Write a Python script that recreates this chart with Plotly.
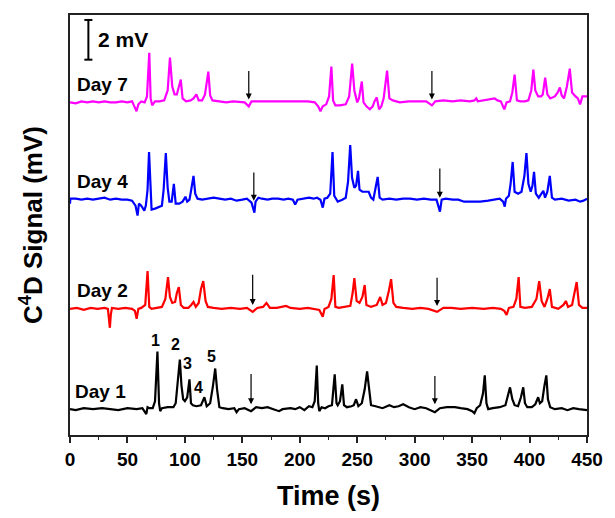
import plotly.graph_objects as go

# ---------------- data (time in s, signal relative to each trace baseline in mV) ----------------
day1_t = [0, 5, 12, 20, 28, 35, 42, 50, 58, 63, 65, 66.4, 67.5, 69, 72, 74, 76.1, 77.5, 78.5, 80, 85, 90, 92, 94, 95.6, 97, 98.5, 100, 102, 104, 105.3, 107, 110, 114, 117, 119, 122, 124.5, 126.4, 128, 130, 133, 138, 143, 145, 147, 152, 157.6, 162, 167, 172, 177, 182, 185, 192, 196, 200, 204, 208, 211, 213, 214.8, 216, 217, 219, 222, 225, 228, 230.4, 232, 233, 235, 237, 238.5, 241, 245, 247, 249, 251, 254, 256.5, 258.6, 260.5, 262, 266, 272, 278, 282, 286, 290, 295, 300, 305, 310, 317.6, 322, 328, 335, 340, 346, 350, 352, 354, 357, 359.5, 361, 362.5, 364, 368, 374, 379, 381, 383, 385, 387, 390, 392.5, 394.5, 396, 398, 402, 405, 407.5, 409, 411, 413, 414.6, 416, 418, 422, 428, 433, 438, 443, 450]
day1_v = [0, -0.05, 0.05, 0, 0.05, 0, -0.05, 0.05, 0, 0.05, -0.15, -0.25, 0.1, 0.05, 0.05, 0.4, 2.9, 0.3, -0.1, 0.05, 0.1, 0.1, 0.3, 1.5, 2.5, 1.2, 0.5, 0.4, 0.6, 1.5, 0.3, 0.2, 0.15, 0.2, 0.6, 0.15, 0.3, 1.2, 2.05, 1.0, 0.1, 0.05, 0, 0.05, -0.15, 0, 0.05, -0.1, 0.1, 0.05, 0.1, 0, -0.1, 0, 0.05, 0, 0.1, -0.05, 0.15, 0.1, 0.4, 2.2, 0.3, -0.1, 0.1, 0.05, 0.15, 0.2, 1.75, 0.3, 0.2, 0.4, 1.25, 0.2, 0.1, 0.15, 0.2, 0.5, 0.15, 0.3, 1.0, 1.9, 0.8, 0.2, 0.15, 0.05, 0.2, 0.1, 0.15, 0.25, 0.1, 0, 0.1, 0.05, -0.15, 0.05, 0.1, 0.1, 0.05, 0, -0.1, -0.2, 0.05, 0.2, 0.8, 1.7, 0.3, 0, 0.05, 0.1, 0.2, 0.6, 1.1, 0.5, 0.2, 0.15, 0.6, 1.1, 0.3, 0.1, 0.1, 0.25, 0.6, 0.3, 0.4, 1.2, 1.7, 0.5, 0.1, 0, 0.05, -0.05, 0.05, 0, -0.05]

day2_t = [0, 6, 12, 18, 24, 30, 33, 34, 34.7, 35.5, 36.5, 42, 48, 54, 56.5, 58, 59.5, 62, 65.5, 67.5, 69, 71, 76, 80, 83, 85.3, 87, 89, 91.5, 93, 94.7, 96.5, 99, 103, 105.5, 107.5, 109.5, 112, 114, 116, 118, 120, 125, 132, 140, 148, 154, 159, 163, 168, 171, 174, 180, 188, 192, 200, 207, 213, 217, 220, 221.5, 225, 227.5, 229.5, 231, 234, 240, 244, 246, 247.5, 249.5, 252, 254.5, 256.5, 258, 262, 267, 270, 272, 275, 277.5, 279.5, 281.5, 284, 290, 298, 305, 312, 319.5, 325, 332, 340, 350, 360, 368, 375, 378, 380, 382, 386, 388.5, 390.5, 392, 396, 402, 406, 408.4, 410.5, 413, 415.5, 417.6, 419.5, 425, 429.5, 431.6, 433.5, 437, 439, 441, 443, 446, 450]
day2_v = [0, 0.05, -0.05, 0.05, 0, 0.05, 0, -0.5, -0.95, -0.3, 0.05, 0, 0.05, 0, -0.1, -0.5, 0, 0.05, 0.2, 1.9, 0.1, 0, 0.05, 0.1, 0.5, 1.6, 0.6, 0.3, 0.35, 0.8, 1.1, 0.2, 0.05, 0.05, 0.2, 0.35, 0.1, 0.3, 1.0, 1.4, 0.4, 0.1, 0.05, 0, 0.05, 0, 0.05, -0.15, 0.05, 0.1, 0.3, 0.05, 0.05, 0.15, 0.05, 0, 0.05, 0, -0.05, -0.4, 0, 0.1, 0.5, 1.7, 0.1, 0.05, 0.1, 0.15, 0.8, 1.55, 0.4, 0.3, 0.6, 1.2, 0.2, 0.1, 0.2, 0.6, 0.2, 0.3, 0.9, 1.5, 0.3, 0.1, 0.05, 0, 0.05, 0, -0.15, 0.05, 0.05, 0, 0.05, 0, 0.05, 0, -0.1, -0.3, 0.05, 0.1, 0.5, 1.6, 0.1, 0.05, 0.1, 0.5, 1.4, 0.4, 0.1, 0.5, 1.0, 0.1, 0, 0.2, 0.4, 0.1, 0.2, 0.8, 1.35, 0.2, 0.05, 0.05]

day4_t = [0, 0.3, 5, 10, 15, 20, 25, 30, 35, 40, 45, 50, 54, 57, 58.8, 60, 62, 64.7, 66, 67.5, 68.8, 70, 71, 74, 78, 80, 81.5, 83.4, 85, 86.5, 88.5, 90.4, 92, 95, 98, 100.5, 102, 104, 105.5, 107.5, 109, 111, 115, 120, 125, 130, 135, 140, 145, 150, 154, 158, 160.5, 161.5, 164, 167, 172, 176, 181, 186, 190, 194, 196, 198, 203, 208, 212, 215, 218, 220, 221.5, 224, 226.5, 228.5, 230, 233, 237, 240, 242, 243.9, 245.5, 247.5, 249, 250.7, 252, 254.5, 257, 260, 262, 264, 266, 267.8, 269.5, 272, 278, 284, 290, 296, 302, 308, 314, 319, 322, 323.5, 327, 333, 338, 343, 350, 357, 364, 370, 374, 377, 378.4, 379.5, 382, 383.5, 385.3, 387, 390, 393, 395.5, 397.3, 399, 401, 402.5, 403.9, 405.5, 408, 410.5, 412, 413.5, 415.5, 417.6, 419.5, 422, 428, 434, 440, 444, 447, 450]
day4_v = [-0.2, 0.05, 0.05, 0, 0.05, 0, 0.05, 0.1, 0, 0.05, 0, 0, -0.05, -0.3, -0.8, -0.2, -0.3, -0.55, -0.3, 0.5, 2.4, 0.2, -0.5, -0.45, -0.35, -0.3, 0.5, 2.35, 0.6, -0.1, -0.1, 0.8, -0.2, -0.2, -0.1, 0.15, -0.1, 0, 0.5, 1.2, 0.3, 0.05, 0, 0.05, 0.1, 0.05, 0, 0.05, -0.05, 0, 0.05, -0.15, -0.65, -0.1, 0.1, 0.05, 0, 0.05, 0.05, 0, 0.05, 0, -0.25, 0, 0.05, 0.1, 0.05, 0.1, 0, -0.4, 0.05, 0.1, 0.3, 2.4, 0.2, -0.1, 0, 0.1, 0.9, 2.75, 1.1, 0.6, 0.7, 1.45, 0.5, 0.4, 0.4, 0.4, 0.1, 0, 0.6, 1.15, 0.1, 0, 0.05, 0, 0.05, 0.05, 0, 0.05, 0, 0, -0.6, 0, 0.05, 0, 0, -0.1, -0.1, -0.1, -0.05, 0, 0.05, -0.1, -0.35, 0.05, 0.2, 0.8, 1.9, 0.4, 0.3, 0.4, 1.2, 2.35, 0.8, 0.4, 0.7, 1.4, 0.3, 0.1, 0.3, 0.45, 0.1, 0.4, 1.2, 0.1, 0, 0.05, -0.05, 0, -0.1, -0.05, 0.05]

day7_t = [0, 5, 10, 15, 20, 25, 30, 35, 40, 45, 50, 54, 56, 57.9, 59.5, 62, 65, 67, 69, 70.2, 71.5, 74, 78, 82, 85, 87, 89, 91, 93, 94.5, 96.4, 98, 101, 105, 107.5, 110, 112, 115, 117.5, 120.4, 122, 124, 130, 136, 142, 148, 152, 155.6, 158, 163, 170, 178, 185, 192, 200, 207, 213, 216, 218, 220, 223, 225.5, 227.5, 229, 231, 235, 240, 243, 245.6, 247.5, 250, 251.5, 254, 255.5, 258, 261, 263.5, 265, 267, 269, 271, 273, 276, 278, 281, 287, 295, 303, 310, 315, 318, 325, 333, 340, 348, 352, 353.6, 355, 360, 366, 369.6, 372, 375, 378, 380, 383, 385, 387, 389, 392, 396, 399, 401.5, 403.3, 405, 407.5, 410, 411.5, 413.6, 415.5, 418, 422, 424.5, 426.4, 428, 430, 432.5, 435, 437, 440, 442, 444, 446, 450]
day7_v = [0, -0.05, 0.05, 0, 0.05, 0, 0.05, 0, 0, 0.05, 0, 0.05, -0.2, -0.45, -0.1, 0.05, 0, 0.3, 2.5, 0.2, -0.15, 0.05, 0.05, 0.1, 0.6, 2.25, 0.8, 0.4, 0.4, 0.7, 1.15, 0.2, 0.05, 0.1, 0.2, 0.4, 0.1, 0.1, 0.4, 1.55, 0.35, 0.1, 0.05, 0, 0.05, 0, 0, -0.2, 0.05, 0.05, 0.05, 0.05, 0.05, 0.05, 0.05, 0.05, 0, -0.2, -0.45, -0.2, -0.1, 0.3, 1.8, 0.1, -0.15, -0.15, -0.1, 0.3, 1.95, 0.6, 0, 0.2, 1.05, 0, -0.2, -0.35, -0.2, 0.05, 0.25, -0.35, -0.2, 0.2, 1.6, 0.2, 0.1, 0, 0.05, 0.05, 0.05, -0.15, 0.05, 0.1, 0.05, 0.1, 0.05, 0.1, 0.2, 0.05, 0.1, 0.15, 0.2, 0.1, 0.05, -0.35, 0, 0.05, 0.5, 1.4, 0.1, 0.05, 0.05, 0.1, 0.6, 1.65, 0.6, 0.3, 0.3, 0.4, 1.25, 0.4, 0.2, 0.3, 0.5, 0.75, 0.35, 0.2, 0.8, 1.7, 0.5, 0.3, 0.2, -0.1, 0.3, 0.3]

day_names = ["Day 1", "Day 2", "Day 4", "Day 7"]
day_offsets = [1.3, 6.35, 11.85, 16.75]          # vertical offsets of stacked traces (mV)
day_colors = ["#000000", "#FF0000", "#0000FF", "#FF00FF"]
label_t = [3, 4.7, 4.7, 4.7]
label_y = [2.2, 7.3, 12.75, 17.65]

# injection markers (arrows)
arrow_t = [157.6, 317.6, 159, 319.5, 160, 321.9, 155.6, 315]
arrow_top = [3.15, 3.05, 8.15, 8.0, 13.3, 13.5, 18.4, 18.4]
arrow_tip = [1.55, 1.55, 6.55, 6.5, 11.8, 11.95, 16.9, 16.9]

# peak numbers for Day 1
peak_labels = ["1", "2", "3", "4", "5"]
peak_label_t = [74.1, 92.1, 102.4, 111.9, 123]
peak_label_y = [4.75, 4.55, 3.6, 2.4, 3.95]

x_ticks = [0, 50, 100, 150, 200, 250, 300, 350, 400, 450]

# ---------------- figure ----------------
fig = go.Figure()
series = [(day1_t, day1_v), (day2_t, day2_v), (day4_t, day4_v), (day7_t, day7_v)]
for (t, v), off, col, name in zip(series, day_offsets, day_colors, day_names):
    fig.add_trace(go.Scatter(x=t, y=[val + off for val in v], mode="lines",
                             line=dict(color=col, width=2.2), name=name, showlegend=False,
                             hoverinfo="skip"))

FONT = "Liberation Sans, Arial, Helvetica, sans-serif"
ann = []
for name, lt, ly in zip(day_names, label_t, label_y):
    ann.append(dict(x=lt, y=ly, xref="x", yref="y", text="<b>%s</b>" % name, showarrow=False,
                    xanchor="left", yanchor="middle", font=dict(family=FONT, size=19, color="black")))
for at, atop, atip in zip(arrow_t, arrow_top, arrow_tip):
    ann.append(dict(x=at, y=atip, ax=at, ay=atop, xref="x", yref="y", axref="x", ayref="y",
                    text="", showarrow=True, arrowhead=2, arrowsize=1, arrowwidth=1.2,
                    arrowcolor="black", standoff=0, startstandoff=0))
for pl, pt, py in zip(peak_labels, peak_label_t, peak_label_y):
    ann.append(dict(x=pt, y=py, xref="x", yref="y", text="<b>%s</b>" % pl, showarrow=False,
                    xanchor="center", yanchor="middle", font=dict(family=FONT, size=16, color="black")))
# scale bar label
ann.append(dict(x=22.7, y=19.9, xref="x", yref="y", text="<b>2 mV</b>", showarrow=False,
                xanchor="left", yanchor="middle", font=dict(family=FONT, size=21, color="black")))

# scale bar (2 mV)
bar_x, bar_y0, bar_y1, cap = 16, 18.9, 20.9, 3.5
shapes = [
    dict(type="line", xref="x", yref="y", x0=bar_x, x1=bar_x, y0=bar_y0, y1=bar_y1, line=dict(color="black", width=2)),
    dict(type="line", xref="x", yref="y", x0=bar_x - cap, x1=bar_x + cap, y0=bar_y0, y1=bar_y0, line=dict(color="black", width=2)),
    dict(type="line", xref="x", yref="y", x0=bar_x - cap, x1=bar_x + cap, y0=bar_y1, y1=bar_y1, line=dict(color="black", width=2)),
]

fig.update_layout(
    width=615, height=518,
    margin=dict(l=70, r=19, t=15, b=80),
    paper_bgcolor="white", plot_bgcolor="white",
    annotations=ann, shapes=shapes,
    font=dict(family=FONT, color="black"),
)
fig.update_xaxes(range=[0, 450], tickvals=x_ticks, showline=True, mirror=True, linecolor="#222",
                 linewidth=1.5, ticks="outside", ticklen=6, tickwidth=1.5, tickcolor="#222",
                 minor=dict(dtick=25, tick0=0, ticks="outside", ticklen=3.5, tickwidth=1.2, tickcolor="#222"),
                 showgrid=False, zeroline=False,
                 tickfont=dict(family=FONT, size=19, color="black", weight="bold"),
                 title=dict(text="<b>Time (s)</b>", font=dict(family=FONT, size=27, color="black"), standoff=18))
fig.update_yaxes(range=[0, 21.15], showline=True, mirror=True, linecolor="#222", linewidth=1.5,
                 showticklabels=False, ticks="", showgrid=False, zeroline=False,
                 title=dict(text="<b>C<sup>4</sup>D Signal (mV)</b>", font=dict(family=FONT, size=26, color="black"), standoff=18))

fig.write_html("out.html")
